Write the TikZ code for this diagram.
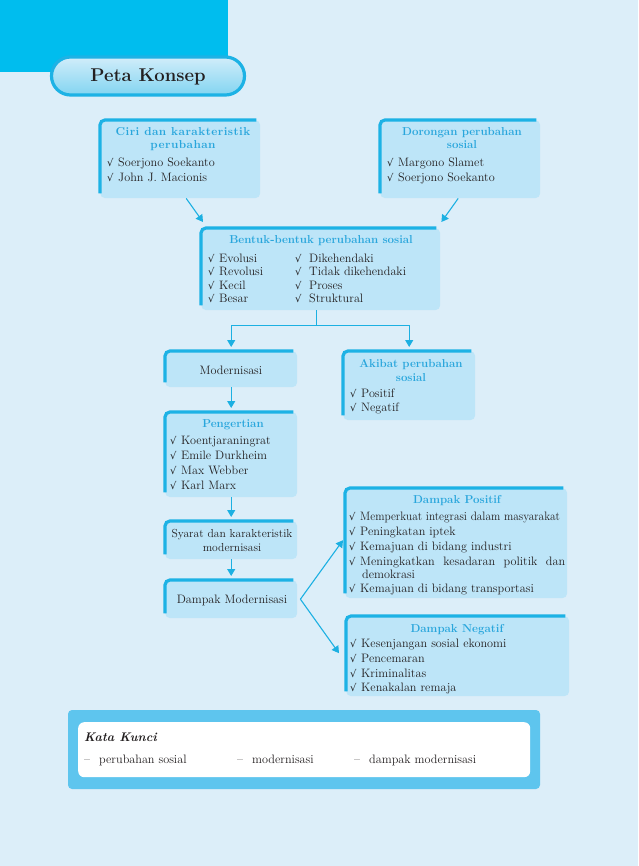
\documentclass[tikz,border=0pt]{standalone}
\usepackage{fontspec}
\usepackage{graphicx}
\usetikzlibrary{arrows.meta}
\newfontface\ttlwide{lmroman10-bold.otf}[LetterSpace=4]
\newfontfamily\ckfam{DejaVu Serif}
\definecolor{bgcol}{HTML}{DCEEF9}
\definecolor{topcyan}{HTML}{00BDEE}
\definecolor{boxfill}{HTML}{BDE5F8}
\definecolor{edgecol}{HTML}{1DB2E5}
\definecolor{ttlcol}{HTML}{29A6DC}
\definecolor{arrcol}{HTML}{1CB0E2}
\definecolor{kkcol}{HTML}{5EC5EE}
\definecolor{txtcol}{HTML}{231F20}
\newcommand{\itmfont}{\fontsize{12.2}{14}\selectfont}
\newcommand{\smlfont}{\fontsize{11.6}{14}\selectfont}
\newcommand{\ttlfont}{\fontsize{11.5}{13}\selectfont\bfseries}
\newcommand{\ckg}{{\ckfam\fontsize{10}{10}\selectfont √}}
\newcommand{\ck}{\makebox[11pt][l]{\ckg}}
\newcommand{\ckw}{\makebox[14pt][l]{\ckg}}
\newcommand{\dsh}{\makebox[15pt][l]{--}}
\newcommand{\boxedge}[1]{\draw[edgeline] ([yshift=5pt]#1.south west) -- (#1.north west) -- ([xshift=-4pt]#1.north east);}
\begin{document}
\begin{tikzpicture}[x=1pt,y=-1pt,
  cbox/.style={fill=boxfill, rounded corners=5pt, inner sep=0pt, anchor=north west},
  edgeline/.style={draw=edgecol, line width=3.2pt, rounded corners=5pt},
  itm/.style={anchor=base west, inner sep=0pt, font=\itmfont, text=txtcol},
  ctr/.style={anchor=base, inner sep=0pt, font=\itmfont, text=txtcol},
  ttl/.style={anchor=base, inner sep=0pt, font=\ttlfont, text=ttlcol},
  ttlw/.style={anchor=base, inner sep=0pt, font=\fontsize{11.5}{13}\selectfont\ttlwide, text=ttlcol},
  conn/.style={draw=arrcol, line width=1.1pt},
  arr/.style={conn, -{Triangle[width=8pt,length=7pt]}}]
\useasboundingbox (0,0) rectangle (638,866);
\fill[bgcol] (0,0) rectangle (638,866);
\fill[topcyan] (0,0) rectangle (228,72);
% title pill
\node[draw=edgecol, line width=3.2pt, rounded corners=19pt, minimum width=193pt, minimum height=38pt,
  top color=boxfill!70!white, middle color=white, bottom color=edgecol!55!white, inner sep=0pt]
  (pill) at (148,76) {};
\node[anchor=base, inner sep=0pt, font=\fontsize{18.5}{20}\selectfont\bfseries, text=txtcol] (pilltxt) at (148,82) {Peta Konsep};
% boxes
\node[cbox, minimum width=160, minimum height=78] (ciri) at (100,120) {};
\node[cbox, minimum width=160, minimum height=78] (dorong) at (380,120) {};
\node[cbox, minimum width=239, minimum height=82] (bentuk) at (201,228) {};
\node[cbox, minimum width=132, minimum height=36] (modern) at (165,351) {};
\node[cbox, minimum width=132, minimum height=69] (akibat) at (343,351) {};
\node[cbox, minimum width=132, minimum height=85] (penger) at (165,412) {};
\node[cbox, minimum width=132, minimum height=38] (syarat) at (165,521) {};
\node[cbox, minimum width=132, minimum height=38] (dampak) at (165,580) {};
\node[cbox, minimum width=222, minimum height=110] (positif) at (345,488) {};
\node[cbox, minimum width=223, minimum height=80] (negatif) at (346,616) {};
\foreach \b in {ciri,dorong,bentuk,modern,akibat,penger,syarat,dampak,positif,negatif}{\boxedge{\b}}
% texts: ciri
\node[ttlw] (t1a) at (183,136) {Ciri dan karakteristik};
\node[ttlw] (t1b) at (183,149) {perubahan};
\node[itm] (i1a) at (107,167) {\ck Soerjono Soekanto};
\node[itm] (i1b) at (107,182) {\ck John J. Macionis};
% dorongan
\node[ttl] (t2a) at (462,136) {Dorongan perubahan};
\node[ttl] (t2b) at (462,149) {sosial};
\node[itm] (i2a) at (387,167) {\ck Margono Slamet};
\node[itm] (i2b) at (387,182) {\ck Soerjono Soekanto};
% bentuk
\node[ttl] (t3) at (321,244) {Bentuk-bentuk perubahan sosial};
\node[itm] (i3a) at (208,262) {\ck Evolusi};
\node[itm] (i3b) at (208,275.5) {\ck Revolusi};
\node[itm] (i3c) at (208,289) {\ck Kecil};
\node[itm] (i3d) at (208,302.5) {\ck Besar};
\node[itm] (i3e) at (295,262) {\ckw Dikehendaki};
\node[itm] (i3f) at (295,275.5) {\ckw Tidak dikehendaki};
\node[itm] (i3g) at (295,289) {\ckw Proses};
\node[itm] (i3h) at (295,302.5) {\ckw Struktural};
% modernisasi
\node[ctr] (t4) at (231,374) {Modernisasi};
% akibat
\node[ttl] (t5a) at (411,367) {Akibat perubahan};
\node[ttl] (t5b) at (411,381) {sosial};
\node[itm] (i5a) at (350,397) {\ck Positif};
\node[itm] (i5b) at (350,411) {\ck Negatif};
% pengertian
\node[ttl] (t6) at (233,427) {Pengertian};
\node[itm] (i6a) at (170,444) {\ck Koentjaraningrat};
\node[itm] (i6b) at (170,459) {\ck Emile Durkheim};
\node[itm] (i6c) at (170,474) {\ck Max Webber};
\node[itm] (i6d) at (170,489) {\ck Karl Marx};
% syarat
\node[ctr, font=\smlfont] (t7a) at (232,537) {Syarat dan karakteristik};
\node[ctr, font=\smlfont] (t7b) at (232,551) {modernisasi};
% dampak
\node[ctr] (t8) at (232,603) {Dampak Modernisasi};
% positif
\node[ttl] (t9) at (457,503) {Dampak Positif};
\node[itm] (i9a) at (349,520) {\ck\scalebox{0.93}[1]{Memperkuat integrasi dalam masyarakat}};
\node[itm] (i9b) at (349,535) {\ck Peningkatan iptek};
\node[itm] (i9c) at (349,550) {\ck Kemajuan di bidang industri};
\node[itm] (i9d) at (349,565) {\ck\makebox[205pt][s]{Meningkatkan kesadaran politik dan}};
\node[itm] (i9e) at (362,578) {demokrasi};
\node[itm] (i9f) at (349,592) {\ck Kemajuan di bidang transportasi};
% negatif
\node[ttl] (t10) at (457,632) {Dampak Negatif};
\node[itm] (i10a) at (350,647) {\ck Kesenjangan sosial ekonomi};
\node[itm] (i10b) at (350,662) {\ck Pencemaran};
\node[itm] (i10c) at (350,677) {\ck Kriminalitas};
\node[itm] (i10d) at (350,691) {\ck Kenakalan remaja};
% connectors
\draw[arr] ([xshift=6pt]ciri.south) -- ([xshift=2pt,yshift=6pt]bentuk.north west);
\draw[arr] ([xshift=-2pt]dorong.south) -- ([xshift=1pt,yshift=6pt]bentuk.north east);
\draw[conn] ([xshift=-4pt]bentuk.south) -- ++(0,15) coordinate (split);
\draw[arr] (split) -| ([yshift=4pt]modern.north);
\draw[arr] (split) -| ([yshift=4pt]akibat.north);
\draw[arr] (modern.south) -- ([yshift=4pt]penger.north);
\draw[arr] (penger.south) -- ([yshift=4pt]syarat.north);
\draw[arr] (syarat.south) -- ([yshift=4pt]dampak.north);
\coordinate (dtip) at ([xshift=3pt]dampak.east);
\draw[arr] (dtip) -- ([xshift=-2pt,yshift=3pt]positif.west);
\draw[arr] (dtip) -- ([xshift=-7pt,yshift=3pt]negatif.west);
% kata kunci
\fill[kkcol, rounded corners=4pt] (68,710) rectangle (540,789);
\node[fill=white, rounded corners=6pt, anchor=north west, minimum width=452, minimum height=55, inner sep=0pt] (kk) at (78,722) {};
\node[anchor=base west, inner sep=0pt, font=\fontsize{12.5}{14}\selectfont\bfseries\itshape, text=txtcol] (kkt) at (84,741) {Kata Kunci};
\node[itm] (k1) at (84,763) {\dsh perubahan sosial};
\node[itm] (k2) at (237,763) {\dsh modernisasi};
\node[itm] (k3) at (354,763) {\dsh dampak modernisasi};
\end{tikzpicture}
\end{document}
